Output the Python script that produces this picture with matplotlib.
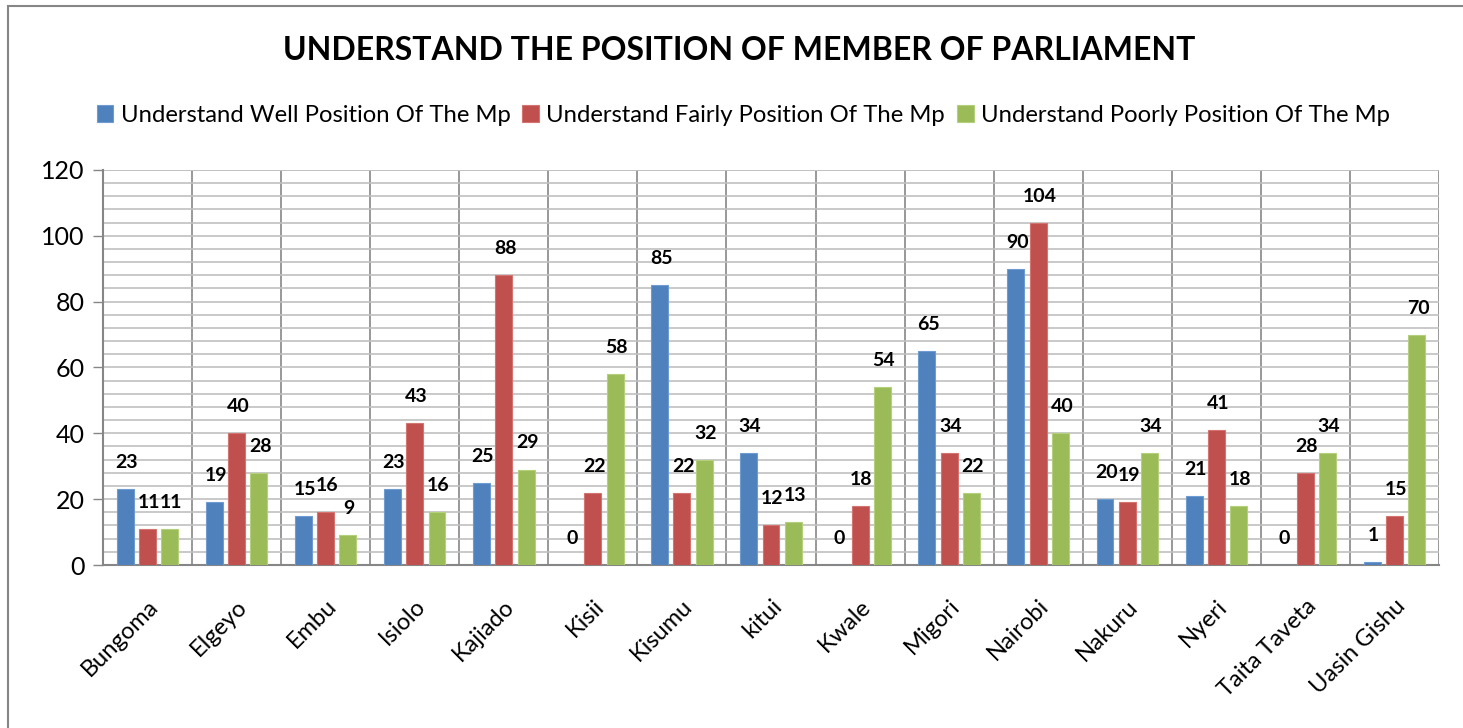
import matplotlib
matplotlib.use("Agg")
import matplotlib.pyplot as plt
from matplotlib.patches import Rectangle
import numpy as np

counties = ["Bungoma", "Elgeyo", "Embu", "Isiolo", "Kajiado", "Kisii", "Kisumu",
            "kitui", "Kwale", "Migori", "Nairobi", "Nakuru", "Nyeri",
            "Taita Taveta", "Uasin Gishu"]
well = [23, 19, 15, 23, 25, 0, 85, 34, 0, 65, 90, 20, 21, 0, 1]
fairly = [11, 40, 16, 43, 88, 22, 22, 12, 18, 34, 104, 19, 41, 28, 15]
poorly = [11, 28, 9, 16, 29, 58, 32, 13, 54, 22, 40, 34, 18, 34, 70]

series_names = ["Understand Well Position Of The Mp",
                "Understand Fairly Position Of The Mp",
                "Understand Poorly Position Of The Mp"]
colors = ["#4F81BD", "#C0504D", "#9BBB59"]
edges = ["#6E9BD1", "#D47370", "#B4D07B"]

plt.rcParams["font.family"] = ["Lato", "DejaVu Sans"]

fig = plt.figure(figsize=(14.63, 7.28), dpi=100)
ax = fig.add_axes([0.0704, 0.2239, 0.9132, 0.5426])

x = np.arange(len(counties))
offsets = [-0.25, 0.0, 0.25]
width = 0.19
for vals, off, c, ec, name in zip([well, fairly, poorly], offsets, colors, edges, series_names):
    bars = ax.bar(x + off, vals, width, color=c, edgecolor=ec, linewidth=0.8,
                  label=name, zorder=3)
    for b, v in zip(bars, vals):
        ax.annotate(str(v), (b.get_x() + b.get_width() / 2, v),
                    xytext=(1, 13), textcoords="offset points",
                    ha="center", va="bottom", fontsize=14, fontweight="bold",
                    color="black", zorder=4)

ax.set_xlim(-0.5, len(counties) - 0.5)
ax.set_ylim(0, 120)
ax.set_yticks(np.arange(0, 121, 20))
ax.set_yticks(np.arange(0, 121, 4), minor=True)
ax.tick_params(axis="y", which="major", length=7, width=1, color="#868686",
               labelsize=18, pad=6)
ax.tick_params(axis="y", which="minor", length=0)
ax.grid(axis="y", which="both", color="#C0C0C0", linewidth=1.2, zorder=0)

ax.set_xticks(x)
ax.set_xticklabels(counties, rotation=45, ha="right", rotation_mode="anchor",
                   fontsize=17)
ax.tick_params(axis="x", length=0, pad=22)
for sep in np.arange(0.5, len(counties) - 0.5, 1):
    ax.axvline(sep, color="#868686", linewidth=1.2, zorder=1)

for side in ["top", "right"]:
    ax.spines[side].set_visible(False)
for side in ["left", "bottom"]:
    ax.spines[side].set_color("#868686")
    ax.spines[side].set_linewidth(1.5)
ax.axvline(len(counties) - 0.5, color="#868686", linewidth=1.2, zorder=1)
ax.axhline(120, color="#C0C0C0", linewidth=1.2, zorder=1)

fig.text(0.505, 0.93, "UNDERSTAND THE POSITION OF MEMBER OF PARLIAMENT",
         ha="center", va="center", fontsize=23, fontweight="bold")

fig.legend(loc="center", bbox_to_anchor=(0.508, 0.842), ncol=3, frameon=False,
           fontsize=17.2, handlelength=0.7, handleheight=0.7, handletextpad=0.3,
           columnspacing=0.5)

fig.patches.append(Rectangle((8 / 1463, -0.05), 1.2, 1 - 6 / 728 + 0.05,
                             transform=fig.transFigure, fill=False,
                             edgecolor="#868686", linewidth=1.5))

fig.savefig("out.png", dpi=100)
